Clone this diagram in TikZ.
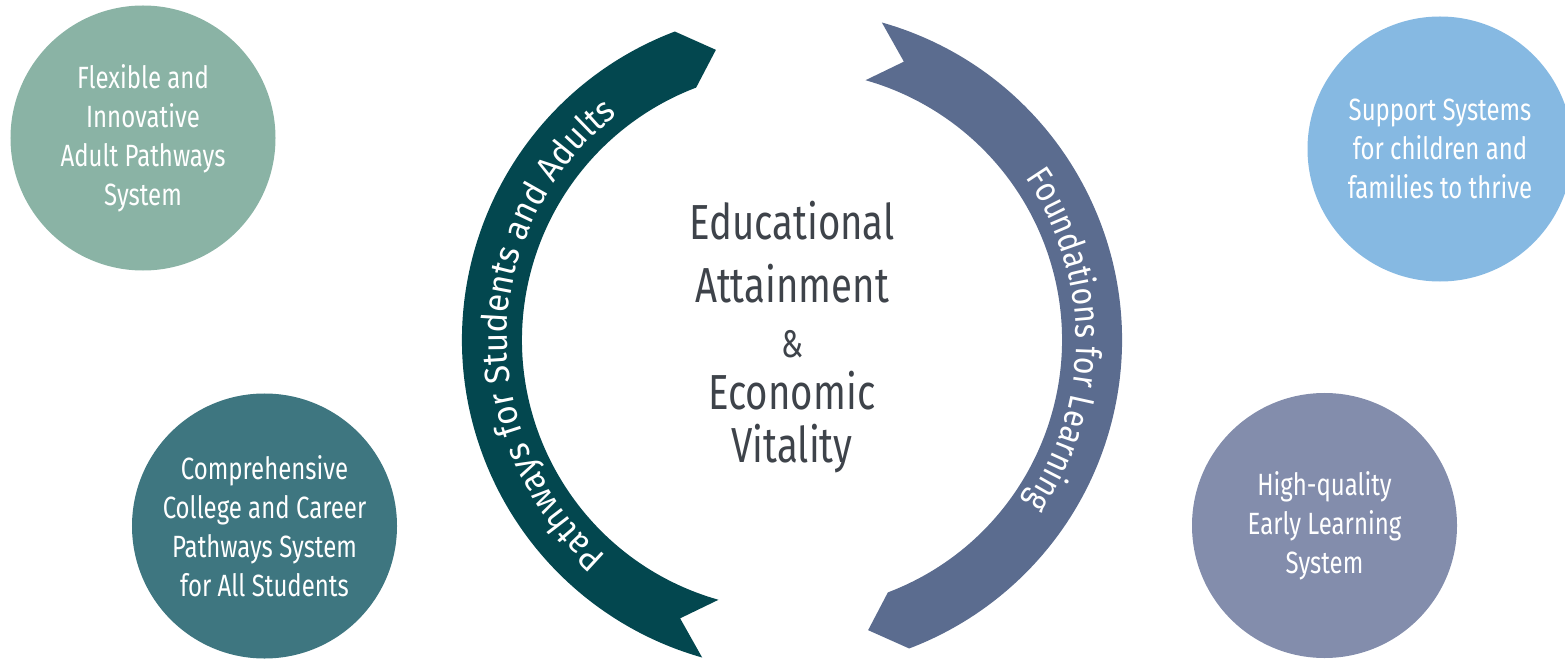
\documentclass[tikz,border=0pt]{standalone}
\usepackage{fontspec}
\setmainfont{Fira Sans}[FakeStretch=0.78]
\newfontfamily\pathfont{Fira Sans}[FakeStretch=0.94]
\newfontfamily\foundfont{Fira Sans}[FakeStretch=0.86]
\usetikzlibrary{decorations.text, positioning}

\definecolor{pathteal}{HTML}{03474F}
\definecolor{foundblue}{HTML}{5B6C8F}
\definecolor{flexgreen}{HTML}{8AB3A5}
\definecolor{collegeteal}{HTML}{3E7680}
\definecolor{supportblue}{HTML}{86B9E2}
\definecolor{earlyblue}{HTML}{838DAC}
\definecolor{goalgray}{HTML}{3E434A}

\tikzset{
	system/.style={circle, minimum size=53mm, inner sep=0pt, text=white, align=center, font=\fontsize{17.5}{22.2}\selectfont},
	goal/.style={align=center, text=goalgray, font=\fontsize{28}{30}\selectfont},
	ribbontext/.style={decorate, decoration={text along path, text align=center, text={#1}}}
}

\begin{document}
\begin{tikzpicture}[x=0.2mm, y=0.2mm]
		\useasboundingbox (0,0) rectangle (1565,660);
		
		% centro
		\coordinate (C) at (792,320);
		
		% fita esquerda
		\fill[pathteal] ([shift={(110.8:330)}]C) arc[start angle=110.8, end angle=254.2, radius=330]
			-- ([shift={(248.1:300)}]C) -- ([shift={(254.2:270)}]C)
			arc[start angle=254.2, end angle=110.8, radius=270]
			-- ([shift={(104.7:300)}]C) -- cycle;
		
		% fita direita
		\fill[foundblue] ([shift={(74.2:330)}]C) arc[start angle=74.2, end angle=-69.2, radius=330]
			-- ([shift={(-75.3:300)}]C) -- ([shift={(-69.2:270)}]C)
			arc[start angle=-69.2, end angle=74.2, radius=270]
			-- ([shift={(68.1:300)}]C) -- cycle;
		
		% textos das fitas
		\path[ribbontext={|\pathfont\fontsize{20}{20}\selectfont\color{white}|Pathways for Students and Adults}]
			([shift={(250:285)}]C) arc[start angle=250, end angle=107, radius=285];
		\path[ribbontext={|\foundfont\fontsize{20}{20}\selectfont\color{white}|Foundations for Learning}]
			([shift={(70:284)}]C) arc[start angle=70, end angle=-70, radius=284];
		
		% texto central
		\node[goal] (goal) at (792,323) {Educational\\[6pt]Attainment\\[1pt]{\fontsize{22}{22}\selectfont\&}\\Economic\\Vitality};
		
		% circulos
		\node[system, fill=flexgreen] (flex) at (143,522) {Flexible and\\Innovative\\Adult Pathways\\System};
		\node[system, fill=collegeteal] (college) at (264.5,134) {Comprehensive\\College and Career\\Pathways System\\for All Students};
		\node[system, fill=supportblue] (support) at (1440,511) {Support Systems\\for children and\\families to thrive};
		\node[system, fill=earlyblue] (early) at (1324.5,134.5) {High-quality\\Early Learning\\System};
\end{tikzpicture}
\end{document}
